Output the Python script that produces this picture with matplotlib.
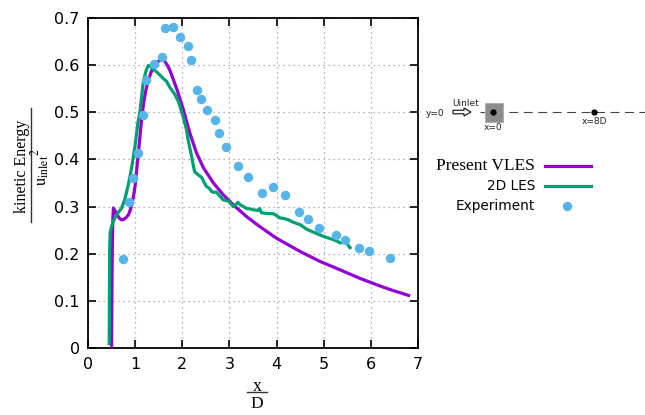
import matplotlib
matplotlib.use('Agg')
import matplotlib.pyplot as plt
from matplotlib.patches import Rectangle, FancyArrow

plt.rcParams['mathtext.fontset'] = 'stix'

# Present VLES
vles_x = [0.50, 0.505, 0.51, 0.52, 0.53, 0.54, 0.57, 0.62, 0.67, 0.71, 0.76, 0.81, 0.86, 0.90,
          0.93, 0.97, 1.00, 1.03, 1.08, 1.13, 1.18, 1.23, 1.28, 1.34, 1.39, 1.45, 1.50, 1.56,
          1.60, 1.64, 1.69, 1.74, 1.81, 1.90, 2.02, 2.16, 2.30, 2.45, 2.66, 2.87, 3.08, 3.36,
          3.64, 4.00, 4.25, 4.50, 4.92, 5.35, 5.77, 6.19, 6.48, 6.80]
vles_y = [0.00, 0.08, 0.16, 0.24, 0.28, 0.297, 0.292, 0.282, 0.275, 0.272, 0.273, 0.277, 0.283,
          0.294, 0.305, 0.325, 0.345, 0.375, 0.425, 0.478, 0.520, 0.548, 0.568, 0.585, 0.597,
          0.604, 0.608, 0.611, 0.611, 0.606, 0.598, 0.588, 0.569, 0.544, 0.506, 0.456, 0.414,
          0.382, 0.350, 0.325, 0.304, 0.279, 0.258, 0.233, 0.219, 0.205, 0.184, 0.166, 0.148,
          0.132, 0.122, 0.112]

# 2D LES
les_x = [0.45, 0.455, 0.46, 0.47, 0.50, 0.54, 0.58, 0.61, 0.66, 0.71, 0.78, 0.86, 0.93, 1.00,
         1.03, 1.06, 1.10, 1.14, 1.17, 1.21, 1.24, 1.28, 1.33, 1.39, 1.45, 1.53, 1.59, 1.66,
         1.74, 1.84, 1.92, 2.02, 2.09, 2.13, 2.20, 2.26, 2.33, 2.41, 2.46, 2.51, 2.57, 2.62,
         2.67, 2.72, 2.80, 2.87, 2.93, 2.98, 3.04, 3.08, 3.13, 3.18, 3.24, 3.30, 3.36, 3.44,
         3.52, 3.61, 3.64, 3.68, 3.76, 3.85, 3.93, 4.00, 4.07, 4.15, 4.25, 4.35, 4.50, 4.64,
         4.78, 4.92, 5.05, 5.21, 5.30, 5.35, 5.42, 5.49, 5.56]
les_y = [0.01, 0.12, 0.21, 0.245, 0.258, 0.269, 0.278, 0.283, 0.290, 0.296, 0.315, 0.348, 0.385,
         0.430, 0.455, 0.478, 0.500, 0.535, 0.562, 0.579, 0.590, 0.599, 0.597, 0.590, 0.586,
         0.578, 0.572, 0.566, 0.552, 0.538, 0.522, 0.490, 0.462, 0.438, 0.405, 0.374, 0.368,
         0.362, 0.352, 0.343, 0.339, 0.332, 0.330, 0.331, 0.322, 0.314, 0.313, 0.312, 0.305,
         0.300, 0.304, 0.309, 0.303, 0.300, 0.296, 0.295, 0.293, 0.292, 0.296, 0.287, 0.286,
         0.285, 0.285, 0.281, 0.276, 0.275, 0.272, 0.267, 0.262, 0.252, 0.246, 0.240, 0.235,
         0.230, 0.226, 0.223, 0.225, 0.222, 0.213]

# Experiment
exp_x = [0.75, 0.88, 0.96, 1.05, 1.17, 1.23, 1.40, 1.56, 1.64, 1.80, 1.95, 2.12, 2.19, 2.32,
         2.40, 2.53, 2.70, 2.78, 2.92, 3.18, 3.40, 3.69, 3.93, 4.18, 4.47, 4.66, 4.91, 5.25,
         5.46, 5.75, 5.96, 6.40]
exp_y = [0.190, 0.310, 0.360, 0.414, 0.494, 0.569, 0.603, 0.617, 0.679, 0.680, 0.660, 0.640,
         0.611, 0.546, 0.527, 0.505, 0.483, 0.455, 0.426, 0.387, 0.362, 0.329, 0.341, 0.325,
         0.289, 0.274, 0.255, 0.240, 0.230, 0.212, 0.205, 0.191]

xticks = [0, 1, 2, 3, 4, 5, 6, 7]
yticks = [0, 0.1, 0.2, 0.3, 0.4, 0.5, 0.6, 0.7]
yticklabels = ['0', '0.1', '0.2', '0.3', '0.4', '0.5', '0.6', '0.7']

purple = '#9400d3'
green = '#009e73'
blue = '#56b4e9'

fig = plt.figure(figsize=(6.45, 4.15), dpi=100)
ax = fig.add_axes([88 / 645, 1 - 348.3 / 415, 330 / 645, 330.6 / 415])

ax.plot(vles_x, vles_y, color=purple, linewidth=2.3, zorder=4, solid_joinstyle='round')
ax.plot(les_x, les_y, color=green, linewidth=2.3, zorder=5, solid_joinstyle='round')
ax.plot(exp_x, exp_y, 'o', color=blue, markersize=6.8, markeredgewidth=0, zorder=6)

ax.set_xlim(0, 7)
ax.set_ylim(0, 0.7)
ax.set_xticks(xticks)
ax.set_yticks(yticks)
ax.set_yticklabels(yticklabels)
ax.grid(True, color='#9a9a9a', linestyle=(0, (1, 3)), linewidth=0.9)
ax.tick_params(direction='in', length=6, width=1.2, top=True, right=True,
               labelsize=11.5, pad=6)
for s in ax.spines.values():
    s.set_linewidth(1.3)

# overlay in pixel units for labels, legend and the sketch
ov = fig.add_axes([0, 0, 1, 1], facecolor='none')
ov.set_xlim(0, 645)
ov.set_ylim(415, 0)
ov.axis('off')

# axis labels as fractions
ov.text(257, 386, 'x', family='Liberation Serif', fontsize=13, ha='center', va='center')
ov.plot([247, 267], [392, 392], color='#333333', linewidth=1)
ov.text(257, 404, 'D', family='Liberation Serif', fontsize=12.5, ha='center', va='center')

ov.text(22, 166, 'kinetic Energy', family='Liberation Serif', fontsize=11.5,
        rotation=90, ha='center', va='center')
ov.plot([31, 31], [108, 222], color='#333333', linewidth=1)
ov.text(41, 167, r'$\mathrm{u}_{\mathrm{inlet}}{}^{2}$', fontsize=12,
        rotation=90, ha='center', va='center')

# legend
ov.text(535, 166, 'Present VLES', family='Liberation Serif', fontsize=12.5,
        ha='right', va='center')
ov.plot([545, 591], [166, 166], color=purple, linewidth=2.3)
ov.text(535, 186, '2D LES', family='DejaVu Sans', fontsize=9.8, ha='right', va='center')
ov.plot([545, 591], [186, 186], color=green, linewidth=2.3)
ov.text(535, 206, 'Experiment', family='DejaVu Sans', fontsize=9.8, ha='right', va='center')
ov.plot([567], [206], 'o', color=blue, markersize=6.8, markeredgewidth=0)

# domain sketch
ov.plot([480, 645], [112, 112], color='#444444', linewidth=0.8, dashes=(8, 5))
ov.add_patch(Rectangle((485, 103), 18, 19, facecolor='#8c8c8c', edgecolor='#b0b0b0',
                       linewidth=0.8, zorder=3))
ov.plot([493, 594], [112, 112], 'o', color='black', markersize=3.5, zorder=4)
ov.add_patch(FancyArrow(453, 112, 18, 0, width=3.5, head_width=8, head_length=7,
                        length_includes_head=True, facecolor='white', edgecolor='#222222',
                        linewidth=0.9, zorder=3))
ov.text(426, 113, 'y=0', fontsize=6.5, ha='left', va='center', color='#222222')
ov.text(452, 103, 'Uinlet', fontsize=6.5, ha='left', va='center', color='#222222')
ov.text(493, 127, 'x=0', fontsize=6.5, ha='center', va='center', color='#222222')
ov.text(594, 121, 'x=8D', fontsize=6.5, ha='center', va='center', color='#222222')

fig.savefig('out.png', dpi=100)
